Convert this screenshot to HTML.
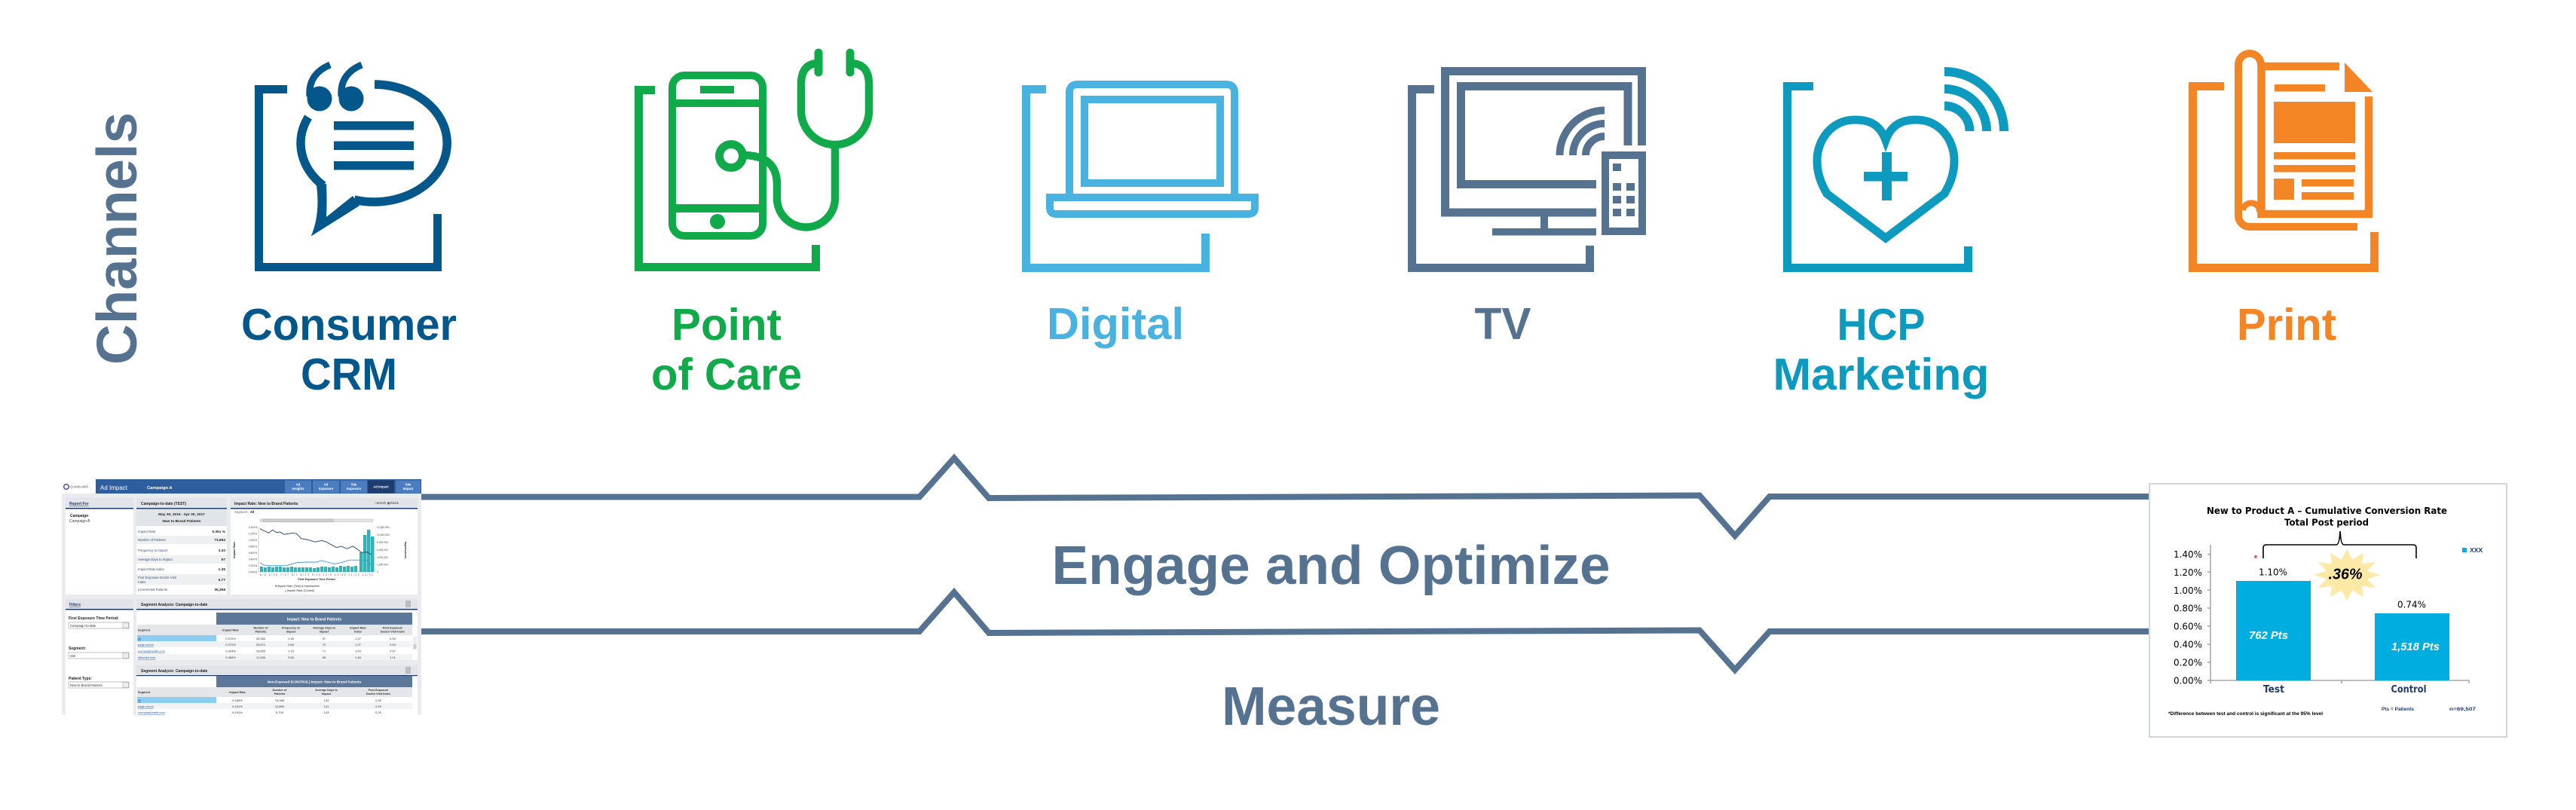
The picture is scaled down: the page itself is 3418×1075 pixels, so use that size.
<!DOCTYPE html>
<html>
<head>
<meta charset="utf-8">
<style>
html,body{margin:0;padding:0;background:#fff;}
body{width:3418px;height:1075px;overflow:hidden;}
svg{display:block;}
</style>
</head>
<body>
<svg width="3418" height="1075" viewBox="0 0 3418 1075" xmlns="http://www.w3.org/2000/svg" font-family="'Liberation Sans', Arial, sans-serif">
<rect x="0" y="0" width="3418" height="1075" fill="#fff"/>

<!-- Channels -->
<text transform="translate(181,316.5) rotate(-90)" text-anchor="middle" font-size="75" font-weight="bold" fill="#557391" textLength="335" lengthAdjust="spacingAndGlyphs">Channels</text>

<!-- ===== Consumer CRM ===== -->
<g fill="none" stroke="#03578a" stroke-width="11">
  <path d="M381,118.5 L343.5,118.5 L343.5,354.5 L580.5,354.5 L580.5,284"/>
  <path d="M497,112 A97,78 0 1 1 470,265.1" stroke-width="11.5"/>
  <path d="M429,246.4 A97,78 0 0 1 409,155.5" stroke-width="11.5"/>
  <path d="M411,128 C409,106 421,93 438,86" stroke-width="9"/>
  <path d="M453,128 C451,106 463,93 480,86" stroke-width="9"/>
</g>
<g fill="#03578a">
  <path d="M420,246 Q425,285 412.7,313.5 L477,273 L468,260 L433,288 Q434,268 433,244 Z"/>
  <circle cx="424" cy="131" r="16.5"/>
  <circle cx="466" cy="131" r="16.5"/>
  <rect x="443" y="161" width="106" height="11.5"/>
  <rect x="443" y="187.5" width="106" height="11.5"/>
  <rect x="443" y="214" width="106" height="11.5"/>
</g>
<g font-size="59" font-weight="bold" fill="#03578a" text-anchor="middle">
  <text x="463" y="451" textLength="286" lengthAdjust="spacingAndGlyphs">Consumer</text>
  <text x="463" y="517" textLength="128" lengthAdjust="spacingAndGlyphs">CRM</text>
</g>

<!-- ===== Point of Care ===== -->
<g fill="none" stroke="#11aa4b" stroke-width="10.5">
  <path d="M869,119.5 L847.5,119.5 L847.5,354.5 L1082.5,354.5 L1082.5,325" stroke-width="11"/>
  <rect x="892" y="100" width="120" height="213" rx="16" ry="16" stroke-width="10"/>
  <path d="M1086,84 Q1063,84 1063,112 L1063,147 A45,45 0 0 0 1153,147 L1153,112 Q1153,84 1128,84"/>
  <path d="M1108,192 L1108,263 A38.5,38.5 0 0 1 1031,263 L1031,245 Q1031,206 986,206"/>
  <circle cx="970" cy="207" r="15.5" fill="#fff" stroke-width="11"/>
  <path d="M1086,70 L1086,96 M1128,70 L1128,96" stroke-width="11" stroke-linecap="round"/>
</g>
<g fill="#11aa4b">
  <rect x="892" y="132" width="120" height="10"/>
  <rect x="929" y="114" width="45" height="10"/>
  <rect x="892" y="271" width="120" height="11"/>
  <circle cx="952" cy="294" r="10"/>
</g>
<g font-size="59" font-weight="bold" fill="#11aa4b" text-anchor="middle">
  <text x="964" y="451" textLength="146" lengthAdjust="spacingAndGlyphs">Point</text>
  <text x="964" y="517" textLength="200" lengthAdjust="spacingAndGlyphs">of Care</text>
</g>

<!-- ===== Digital ===== -->
<g fill="none" stroke="#48b3e0" stroke-width="10">
  <path d="M1388,118.5 L1361.5,118.5 L1361.5,355.5 L1599.5,355.5 L1599.5,310" stroke-width="11"/>
  <path d="M1419,258 L1419,123 Q1419,112 1430,112 L1627,112 Q1638,112 1638,123 L1638,258"/>
  <rect x="1439" y="132" width="180" height="111"/>
  <path d="M1393,262 L1393,276 Q1393,284 1402,284 L1656,284 Q1665,284 1665,276 L1665,262"/>
</g>
<rect x="1388" y="257" width="282" height="10" fill="#48b3e0"/>
<text x="1480" y="450" font-size="59" font-weight="bold" fill="#48b3e0" text-anchor="middle" textLength="182" lengthAdjust="spacingAndGlyphs">Digital</text>

<!-- ===== TV ===== -->
<g fill="none" stroke="#557391" stroke-width="11">
  <path d="M1903,118.5 L1873.5,118.5 L1873.5,355.5 L2109.5,355.5 L2109.5,326"/>
  <path d="M2118,282 L1917.5,282 L1917.5,94.5 L2178.5,94.5 L2178.5,193"/>
  <path d="M2118,244.5 L1938.5,244.5 L1938.5,114.5 L2160,114.5 L2160,193"/>
  <rect x="2130" y="206" width="49" height="101" stroke-width="10"/>
  <path d="M2069.5,206 A59.5,59.5 0 0 1 2129,146.5" stroke-width="10"/>
  <path d="M2087,206 A42,42 0 0 1 2129,164" stroke-width="10"/>
  <path d="M2104,206 A25,25 0 0 1 2129,181" stroke-width="10"/>
</g>
<g fill="#557391">
  <rect x="2044" y="287" width="10" height="17"/>
  <rect x="1980" y="303" width="138" height="9.5"/>
  <rect x="2140" y="217" width="11" height="10"/>
  <rect x="2140" y="243" width="11" height="10"/><rect x="2158" y="243" width="11" height="10"/>
  <rect x="2140" y="260" width="11" height="10"/><rect x="2158" y="260" width="11" height="10"/>
  <rect x="2140" y="277" width="11" height="10"/><rect x="2158" y="277" width="11" height="10"/>
</g>
<text x="1994" y="450" font-size="59" font-weight="bold" fill="#557391" text-anchor="middle" textLength="75" lengthAdjust="spacingAndGlyphs">TV</text>

<!-- ===== HCP Marketing ===== -->
<g fill="none" stroke="#0c9abe" stroke-width="11.5">
  <path d="M2406,114.5 L2371.5,114.5 L2371.5,355.5 L2611.5,355.5 L2611.5,327" stroke-width="11"/>
  <path d="M2502,186 C2494,164 2479,159 2461,159 C2431,159 2411,185 2411,213 C2411,230 2416,243 2424,257 L2502,316 L2580,257 C2588,243 2593,230 2593,213 C2593,185 2573,159 2543,159 C2525,159 2510,164 2502,186 Z" stroke-width="11" stroke-linejoin="miter"/>
  <path d="M2580,95 A79,79 0 0 1 2659,174" stroke-width="12"/>
  <path d="M2580,118 A56,56 0 0 1 2636,174" stroke-width="12"/>
  <path d="M2580,140.5 A33.5,33.5 0 0 1 2613.5,174" stroke-width="12"/>
</g>
<g fill="#0c9abe">
  <rect x="2497" y="202" width="13" height="64"/>
  <rect x="2473" y="228" width="58" height="12.5"/>
</g>
<g font-size="59" font-weight="bold" fill="#0c9abe" text-anchor="middle">
  <text x="2496" y="451" textLength="117" lengthAdjust="spacingAndGlyphs">HCP</text>
  <text x="2496" y="517" textLength="287" lengthAdjust="spacingAndGlyphs">Marketing</text>
</g>

<!-- ===== Print ===== -->
<g fill="none" stroke="#f48524" stroke-width="10.5">
  <path d="M2951,114.5 L2909.5,114.5 L2909.5,355.5 L3150.5,355.5 L3150.5,308" stroke-width="11"/>
  <path d="M3104,88 L3000.5,88 L3000.5,284 L3143,284 L3143,128"/>
  <path d="M3000,88 L3000,86 A15,15 0 0 0 2970,86 L2970,286 A15,15 0 0 0 2985,301 L3128,301" stroke-width="10"/>
  <path d="M2998,282 A11,11 0 0 0 2976,279" stroke-width="8"/>
</g>
<g fill="#f48524">
  <polygon points="3111,83 3111,122 3148,122"/>
  <rect x="3018" y="112" width="67" height="9.5"/>
  <rect x="3017" y="135" width="108" height="55"/>
  <rect x="3017" y="202" width="108" height="9.5"/>
  <rect x="3017" y="219" width="108" height="9.5"/>
  <rect x="3017" y="237" width="27" height="28"/>
  <rect x="3054" y="238" width="69" height="9.5"/>
  <rect x="3054" y="255" width="69" height="10"/>
</g>
<text x="3034" y="451" font-size="59" font-weight="bold" fill="#f48524" text-anchor="middle" textLength="132" lengthAdjust="spacingAndGlyphs">Print</text>

<!-- ===== Zigzag lines ===== -->
<g fill="none" stroke="#557391" stroke-width="8" stroke-linejoin="miter" stroke-miterlimit="10">
  <polyline points="559,659.5 1220,659.5 1266,608 1312,661 2255,657.5 2302,711 2348,659 2852,659"/>
  <polyline points="559,838 1220,838 1266,786 1312,840 2255,836.5 2302,889 2348,838 2852,838"/>
</g>
<g font-size="72" font-weight="bold" fill="#557391" text-anchor="middle">
  <text x="1766" y="775" textLength="741" lengthAdjust="spacingAndGlyphs">Engage and Optimize</text>
  <text x="1766" y="962" textLength="290" lengthAdjust="spacingAndGlyphs">Measure</text>
</g>

<!-- ===== Dashboard screenshot ===== -->
<g font-family="'Liberation Sans', Arial, sans-serif">
  <rect x="82" y="636" width="477" height="313" fill="#e9ebee"/>
  <rect x="82" y="636" width="45" height="19" fill="#fff"/>
  <circle cx="88" cy="646" r="3.3" fill="none" stroke="#6a4fa0" stroke-width="1.6"/>
  <text x="93" y="647.5" font-size="4.3" fill="#666">QuintilesIMS</text>
  <rect x="127" y="636" width="432" height="19" fill="#2e5e9e"/>
  <text x="133" y="650" font-size="8" fill="#fff">Ad Impact</text>
  <text x="195" y="649" font-size="5.8" font-weight="bold" fill="#fff">Campaign A</text>
  <rect x="378" y="637.5" width="35" height="17" fill="#4b7dbf"/>
  <rect x="415" y="637.5" width="35" height="17" fill="#4b7dbf"/>
  <rect x="452" y="637.5" width="35" height="17" fill="#4b7dbf"/>
  <rect x="488" y="637.5" width="35" height="17" fill="#1e3c6e"/>
  <rect x="525" y="637.5" width="33" height="17" fill="#4b7dbf"/>
  <g font-size="4.2" fill="#fff" text-anchor="middle" font-weight="bold">
    <text x="395.5" y="644.5">Ad</text><text x="395.5" y="650">Insights</text>
    <text x="432.5" y="644.5">Ad</text><text x="432.5" y="650">Exposure</text>
    <text x="469.5" y="644.5">Site</text><text x="469.5" y="650">Exposure</text>
    <text x="505.5" y="647.5">Ad Impact</text>
    <text x="541.5" y="644.5">Site</text><text x="541.5" y="650">Impact</text>
  </g>

  <!-- Report For -->
  <rect x="87" y="661" width="90" height="128" fill="#fff"/>
  <rect x="87" y="661" width="90" height="13" fill="#e1e4e8"/>
  <rect x="87" y="674" width="90" height="1.5" fill="#1f3a68"/>
  <text x="92" y="670" font-size="5" font-weight="bold" fill="#1f3a68" text-decoration="underline">Report For</text>
  <text x="93" y="686" font-size="5" font-weight="bold" fill="#222">Campaign</text>
  <text x="92" y="693" font-size="5" fill="#444">Campaign A</text>

  <!-- Campaign-to-date -->
  <rect x="181" y="661" width="120" height="128" fill="#fff"/>
  <rect x="181" y="661" width="120" height="13" fill="#e1e4e8"/>
  <rect x="181" y="674" width="120" height="1.5" fill="#1f3a68"/>
  <text x="187" y="670" font-size="5" font-weight="bold" fill="#222">Campaign-to-date (TEST)</text>
  <rect x="181" y="676" width="120" height="22" fill="#e1e4e8"/>
  <text x="241" y="684" font-size="4.8" font-weight="bold" fill="#222" text-anchor="middle">May 30, 2016 - Apr 30, 2017</text>
  <text x="241" y="693" font-size="4.8" font-weight="bold" fill="#222" text-anchor="middle">New to Brand Patients</text>
  <rect x="181" y="711" width="120" height="11" fill="#eef0f2"/>
  <rect x="181" y="737" width="120" height="11" fill="#eef0f2"/>
  <rect x="181" y="762" width="120" height="14" fill="#eef0f2"/>
  <g font-size="4.3" fill="#34507a">
    <text x="183" y="707">Impact Rate</text>
    <text x="183" y="718">Number of Patients</text>
    <text x="183" y="732">Frequency to Impact</text>
    <text x="183" y="744">Average Days to Impact</text>
    <text x="183" y="757">Impact Rate Index</text>
    <text x="183" y="768">Post Exposure Doctor Visit</text>
    <text x="183" y="774">Index</text>
    <text x="183" y="784">Incremental Patients</text>
  </g>
  <g font-size="4.8" font-weight="bold" fill="#222" text-anchor="end">
    <text x="299" y="707">0.351 %</text>
    <text x="299" y="718">73,692</text>
    <text x="299" y="732">3.20</text>
    <text x="299" y="744">57</text>
    <text x="299" y="757">1.35</text>
    <text x="299" y="771">0.77</text>
    <text x="299" y="784">35,358</text>
  </g>

  <!-- Impact rate chart -->
  <rect x="306" y="661" width="248" height="128" fill="#fff"/>
  <rect x="306" y="661" width="248" height="13" fill="#e1e4e8"/>
  <rect x="306" y="674" width="248" height="1.5" fill="#1f3a68"/>
  <text x="311" y="670" font-size="5" font-weight="bold" fill="#222">Impact Rate:  New to Brand Patients</text>
  <text x="497" y="669" font-size="4.5" fill="#444">○Month  ◉Week</text>
  <text x="311" y="681" font-size="4.3" fill="#666">Segment :  <tspan font-weight="bold" fill="#222">All</tspan></text>
  <rect x="345" y="689" width="150" height="3.5" fill="#e4e4e4" stroke="#bbb" stroke-width="0.5"/>
  <rect x="349" y="689" width="93" height="3.5" fill="#cfcfcf" stroke="#999" stroke-width="0.5"/>
  <line x1="343" y1="699" x2="343" y2="759" stroke="#999" stroke-width="0.5"/>
  <line x1="343" y1="759" x2="495" y2="759" stroke="#999" stroke-width="0.5"/>
  <g fill="#33b2b6">
    <rect x="345" y="752" width="4" height="7"/><rect x="350" y="753" width="4" height="6"/>
    <rect x="355" y="752" width="4" height="7"/><rect x="360" y="753" width="4" height="6"/>
    <rect x="365" y="752" width="4" height="7"/><rect x="370" y="752" width="4" height="7"/>
    <rect x="375" y="753" width="4" height="6"/><rect x="380" y="753" width="4" height="6"/>
    <rect x="385" y="752" width="4" height="7"/><rect x="390" y="753" width="4" height="6"/>
    <rect x="395" y="753" width="4" height="6"/><rect x="400" y="753" width="4" height="6"/>
    <rect x="405" y="753" width="4" height="6"/><rect x="410" y="753" width="4" height="6"/>
    <rect x="415" y="754" width="4" height="5"/><rect x="420" y="753" width="4" height="6"/>
    <rect x="425" y="752" width="4" height="7"/><rect x="430" y="752" width="4" height="7"/>
    <rect x="435" y="753" width="4" height="6"/><rect x="440" y="752" width="4" height="7"/>
    <rect x="445" y="753" width="4" height="6"/><rect x="450" y="751" width="4" height="8"/>
    <rect x="455" y="752" width="4" height="7"/><rect x="460" y="751" width="4" height="8"/>
    <rect x="465" y="752" width="4" height="7"/><rect x="470" y="751" width="4" height="8"/>
    <rect x="477" y="733" width="4.5" height="26"/><rect x="482" y="710" width="4.5" height="49"/>
    <rect x="487" y="703" width="4.5" height="56"/><rect x="492" y="712" width="4.5" height="47"/>
  </g>
  <polyline fill="none" stroke="#1f3f73" stroke-width="0.9" points="345,701.7 351.7,705 356.7,707.3 361.7,703.3 366.7,706.7 371.7,706 376.7,709.3 383.3,708.3 388.3,707.3 393.3,708.3 400,715 406.7,716 411.7,717.3 418.3,719.3 426.7,717.3 433.3,719.3 440,723.3 446.7,726.7 453.3,725 460,728.3 468.3,725 473.3,728.3 480,733.3 486.7,732.7 493.3,736"/>
  <polyline fill="none" stroke="#3a9be0" stroke-width="0.9" points="345,746.7 350,750 356.7,750.7 380,750.7 393.3,746.7 406.7,746 420,746 426.7,744 443.3,748.3 453.3,746.7 463.3,743.3 476.7,743.3 486.7,744 493.3,750"/>
  <g font-size="3.3" fill="#444" text-anchor="end">
    <text x="341" y="701">1.400%</text><text x="341" y="709.5">1.200%</text>
    <text x="341" y="718">1.000%</text><text x="341" y="726.5">0.800%</text>
    <text x="341" y="735">0.600%</text><text x="341" y="743.5">0.400%</text>
    <text x="341" y="752">0.200%</text><text x="341" y="760.5">0.000%</text>
  </g>
  <g font-size="3.3" fill="#444">
    <text x="500" y="701">12,000,000</text><text x="500" y="711">10,000,000</text>
    <text x="500" y="721">8,000,000</text><text x="500" y="731">6,000,000</text>
    <text x="500" y="741">4,000,000</text><text x="500" y="750.5">2,000,000</text>
    <text x="500" y="760.5">0</text>
  </g>
  <text transform="translate(312,730) rotate(-90)" font-size="3.8" font-weight="bold" fill="#222" text-anchor="middle">Impact Rate</text>
  <text transform="translate(537,730) rotate(90)" font-size="3.8" font-weight="bold" fill="#222" text-anchor="middle">Impressions</text>
  <text x="420" y="764" font-size="3.3" fill="#444" text-anchor="middle" textLength="150" lengthAdjust="spacing">6/5 6/26 7/17 8/7 8/29 9/19 10/9 10/30 11/20 12/11</text>
  <text x="420" y="770" font-size="3.8" font-weight="bold" fill="#222" text-anchor="middle">First Exposure Time Period</text>
  <text x="365" y="779" font-size="3.8" fill="#222">▾ Impact Rate (Test)   <tspan fill="#33b2b6">■</tspan> Impressions</text>
  <text x="378" y="785" font-size="3.8" fill="#222"><tspan fill="#3a9be0">▴</tspan> Impact Rate (Control)</text>

  <!-- Filters -->
  <rect x="87" y="795" width="90" height="154" fill="#fff"/>
  <rect x="87" y="795" width="90" height="13" fill="#e1e4e8"/>
  <rect x="87" y="808" width="90" height="1.5" fill="#1f3a68"/>
  <text x="92" y="804" font-size="5" font-weight="bold" fill="#1f3a68" text-decoration="underline">Filters</text>
  <text x="91" y="822" font-size="5" font-weight="bold" fill="#222">First Exposure Time Period:</text>
  <rect x="91" y="826" width="80" height="8" fill="#fff" stroke="#999" stroke-width="0.6"/>
  <rect x="163" y="826.5" width="7.5" height="7" fill="#eee" stroke="#999" stroke-width="0.5"/>
  <text x="93" y="832" font-size="4.3" fill="#333">Campaign-to-date</text>
  <text x="91" y="862" font-size="5" font-weight="bold" fill="#222">Segment:</text>
  <rect x="91" y="866" width="80" height="8" fill="#fff" stroke="#999" stroke-width="0.6"/>
  <rect x="163" y="866.5" width="7.5" height="7" fill="#eee" stroke="#999" stroke-width="0.5"/>
  <text x="93" y="872" font-size="4.3" fill="#333">Site</text>
  <text x="91" y="902" font-size="5" font-weight="bold" fill="#222">Patient Type:</text>
  <rect x="91" y="905" width="80" height="8" fill="#fff" stroke="#999" stroke-width="0.6"/>
  <rect x="163" y="905.5" width="7.5" height="7" fill="#eee" stroke="#999" stroke-width="0.5"/>
  <text x="93" y="911" font-size="4.3" fill="#333">New to Brand Patients</text>

  <!-- Segment Analysis 1 -->
  <rect x="181" y="795" width="373" height="81" fill="#fff"/>
  <rect x="181" y="795" width="373" height="13" fill="#e1e4e8"/>
  <rect x="181" y="808" width="373" height="1.5" fill="#1f3a68"/>
  <text x="187" y="804" font-size="5" font-weight="bold" fill="#222">Segment Analysis: Campaign-to-date</text>
  <rect x="538" y="797" width="7" height="9" fill="#bbb"/>
  <rect x="287" y="813" width="260" height="16" fill="#5b7799"/>
  <text x="417" y="823.5" font-size="5" font-weight="bold" fill="#fff" text-anchor="middle">Impact: New to Brand Patients</text>
  <rect x="182" y="829" width="365" height="14" fill="#e4e6e9"/>
  <g font-size="3.8" font-weight="bold" fill="#333" text-anchor="middle">
    <text x="183" y="837.5" text-anchor="start">Segment</text>
    <text x="306" y="837.5">Impact Rate</text>
    <text x="346" y="834.5">Number of</text><text x="346" y="839.5">Patients</text>
    <text x="386" y="834.5">Frequency to</text><text x="386" y="839.5">Impact</text>
    <text x="430" y="834.5">Average Days to</text><text x="430" y="839.5">Impact</text>
    <text x="475" y="834.5">Impact Rate</text><text x="475" y="839.5">Index</text>
    <text x="521" y="834.5">Post Exposure</text><text x="521" y="839.5">Doctor Visit Index</text>
  </g>
  <rect x="182" y="851" width="365" height="8" fill="#f1f2f4"/>
  <rect x="182" y="868" width="365" height="8" fill="#f1f2f4"/>
  <rect x="182" y="843" width="105" height="8" fill="#8dcdf2"/>
  <g font-size="4" fill="#2255aa" text-decoration="underline">
    <text x="183" y="849">all</text>
    <text x="183" y="857">page.comm</text>
    <text x="183" y="865.5">everydayhealth.com</text>
    <text x="183" y="874">lifescript.com</text>
  </g>
  <g font-size="4" fill="#333" text-anchor="middle">
    <text x="306" y="849">0.370%</text><text x="346" y="849">28,384</text><text x="386" y="849">2.45</text><text x="430" y="849">57</text><text x="475" y="849">1.37</text><text x="521" y="849">0.93</text>
    <text x="306" y="857">0.370%</text><text x="346" y="857">25,871</text><text x="386" y="857">2.66</text><text x="430" y="857">70</text><text x="475" y="857">1.37</text><text x="521" y="857">0.90</text>
    <text x="306" y="865.5">0.304%</text><text x="346" y="865.5">18,855</text><text x="386" y="865.5">2.15</text><text x="430" y="865.5">71</text><text x="475" y="865.5">1.45</text><text x="521" y="865.5">0.97</text>
    <text x="306" y="874">0.368%</text><text x="346" y="874">11,986</text><text x="386" y="874">3.55</text><text x="430" y="874">58</text><text x="475" y="874">1.46</text><text x="521" y="874">1.01</text>
  </g>
  <rect x="548" y="845" width="5" height="17" fill="#eee"/>
  <rect x="548.5" y="855" width="4" height="6" fill="#ccc"/>

  <!-- Segment Analysis 2 -->
  <rect x="181" y="883" width="373" height="66" fill="#fff"/>
  <rect x="181" y="883" width="373" height="13" fill="#e1e4e8"/>
  <rect x="181" y="896" width="373" height="1.2" fill="#1f3a68"/>
  <text x="187" y="892" font-size="5" font-weight="bold" fill="#222">Segment Analysis: Campaign-to-date</text>
  <rect x="538" y="885" width="7" height="9" fill="#bbb"/>
  <rect x="287" y="897" width="260" height="15" fill="#5b7799"/>
  <text x="417" y="906.5" font-size="4.6" font-weight="bold" fill="#fff" text-anchor="middle">Non-Exposed (CONTROL) Impact: New to Brand Patients</text>
  <rect x="182" y="912" width="365" height="13" fill="#e4e6e9"/>
  <g font-size="3.8" font-weight="bold" fill="#333" text-anchor="middle">
    <text x="183" y="920" text-anchor="start">Segment</text>
    <text x="315" y="920">Impact Rate</text>
    <text x="371" y="917">Number of</text><text x="371" y="922">Patients</text>
    <text x="433" y="917">Average Days to</text><text x="433" y="922">Impact</text>
    <text x="502" y="917">Post Exposure</text><text x="502" y="922">Doctor Visit Index</text>
  </g>
  <rect x="182" y="933" width="365" height="8" fill="#f1f2f4"/>
  <rect x="182" y="925" width="105" height="8" fill="#8dcdf2"/>
  <g font-size="4" fill="#2255aa" text-decoration="underline">
    <text x="183" y="931">all</text>
    <text x="183" y="939">page.comm</text>
    <text x="183" y="947">everydayhealth.com</text>
  </g>
  <g font-size="4" fill="#333" text-anchor="middle">
    <text x="315" y="931">0.188%</text><text x="371" y="931">15,988</text><text x="433" y="931">144</text><text x="502" y="931">0.35</text>
    <text x="315" y="939">0.181%</text><text x="371" y="939">14,800</text><text x="433" y="939">141</text><text x="502" y="939">0.29</text>
    <text x="315" y="947">0.192%</text><text x="371" y="947">5,700</text><text x="433" y="947">143</text><text x="502" y="947">0.25</text>
  </g>
</g>

<!-- ===== Right bar chart ===== -->
<g>
  <rect x="2852" y="642" width="474" height="336" fill="#fff" stroke="#d3d7dc" stroke-width="2"/>
  <g font-family="'DejaVu Sans', Verdana, sans-serif" font-weight="bold" fill="#000" text-anchor="middle">
    <text x="3087.5" y="682" font-size="12.5" textLength="319" lengthAdjust="spacingAndGlyphs">New to Product A – Cumulative Conversion Rate</text>
    <text x="3087" y="697.5" font-size="12.5" textLength="112" lengthAdjust="spacingAndGlyphs">Total Post period</text>
  </g>
  <g font-family="'DejaVu Sans', Verdana, sans-serif" font-size="12" fill="#000" text-anchor="end">
    <text x="2922" y="740" textLength="38" lengthAdjust="spacingAndGlyphs">1.40%</text>
    <text x="2922" y="764" textLength="38" lengthAdjust="spacingAndGlyphs">1.20%</text>
    <text x="2922" y="788" textLength="38" lengthAdjust="spacingAndGlyphs">1.00%</text>
    <text x="2922" y="811.5" textLength="38" lengthAdjust="spacingAndGlyphs">0.80%</text>
    <text x="2922" y="835.5" textLength="38" lengthAdjust="spacingAndGlyphs">0.60%</text>
    <text x="2922" y="859.5" textLength="38" lengthAdjust="spacingAndGlyphs">0.40%</text>
    <text x="2922" y="883.5" textLength="38" lengthAdjust="spacingAndGlyphs">0.20%</text>
    <text x="2922" y="907.5" textLength="38" lengthAdjust="spacingAndGlyphs">0.00%</text>
  </g>
  <g stroke="#a6a6a6" stroke-width="1.5" fill="none">
    <path d="M2933,723 L2933,903 L3276,903"/>
    <path d="M2929,735.7 L2933,735.7 M2929,759.3 L2933,759.3 M2929,783.3 L2933,783.3 M2929,807 L2933,807 M2929,831 L2933,831 M2929,855 L2933,855 M2929,879 L2933,879 M2929,903 L2933,903"/>
    <path d="M2933,903 L2933,907 M3107,903 L3107,907 M3276,903 L3276,907"/>
  </g>
  <rect x="2967" y="771" width="99" height="132" fill="#00ade0"/>
  <rect x="3151" y="814" width="99" height="89" fill="#00ade0"/>
  <g font-family="'DejaVu Sans', Verdana, sans-serif" font-size="12" fill="#000" text-anchor="middle">
    <text x="3016" y="763.5" textLength="38" lengthAdjust="spacingAndGlyphs">1.10%</text>
    <text x="3200" y="806.5" textLength="38" lengthAdjust="spacingAndGlyphs">0.74%</text>
  </g>
  <g font-weight="bold" font-style="italic" fill="#fff" text-anchor="middle">
    <text x="3010" y="848" font-size="15" textLength="52" lengthAdjust="spacingAndGlyphs">762 Pts</text>
    <text x="3205" y="863" font-size="15" textLength="64" lengthAdjust="spacingAndGlyphs">1,518 Pts</text>
  </g>
  <g font-family="'DejaVu Sans', Verdana, sans-serif" font-weight="bold" fill="#1f3a6e" text-anchor="middle" font-size="13">
    <text x="3017" y="919" textLength="28" lengthAdjust="spacingAndGlyphs">Test</text>
    <text x="3196" y="919" textLength="47" lengthAdjust="spacingAndGlyphs">Control</text>
  </g>
  <path d="M3003,741 L3003,727 Q3003,723 3007,723 L3100,723 Q3104,723 3105,705 Q3106,723 3110,723 L3202,723 Q3206,723 3206,727 L3206,741" fill="none" stroke="#000" stroke-width="1.6"/>
  <polygon fill="#fde9a6" points="3158,763 3141,768.4 3152.1,780 3133.8,777.8 3136,792.4 3121.3,783.3 3114,797 3106.7,783.3 3092,792.4 3094.2,777.8 3075.9,780 3087,768.4 3070,763 3087,757.6 3075.9,746 3094.2,748.2 3092,733.6 3106.7,742.7 3114,729 3121.3,742.7 3136,733.6 3133.8,748.2 3152.1,746 3141,757.6"/>
  <text x="3112" y="768.5" font-size="20" font-weight="bold" font-style="italic" fill="#000" text-anchor="middle" textLength="45" lengthAdjust="spacingAndGlyphs">.36%</text>
  <text x="2993" y="745" font-size="12" font-weight="bold" fill="#c03a70" text-anchor="middle">*</text>
  <rect x="3267" y="727" width="6" height="6" fill="#00ade0"/>
  <text x="3277" y="733" font-size="8" font-weight="bold" fill="#1f3a6e" textLength="17" lengthAdjust="spacingAndGlyphs">XXX</text>
  <text x="2877" y="949" font-size="6" font-weight="bold" fill="#000" textLength="205" lengthAdjust="spacingAndGlyphs">*Difference between test and control is significant at the 95% level</text>
  <text x="3160" y="943" font-size="6" font-weight="bold" fill="#1f3a6e" textLength="43" lengthAdjust="spacingAndGlyphs">Pts = Patients</text>
  <text x="3250" y="943" font-size="6.5" font-weight="bold" fill="#1f3a6e" textLength="35" lengthAdjust="spacingAndGlyphs">n=69,507</text>
</g>
</svg>
</body>
</html>
